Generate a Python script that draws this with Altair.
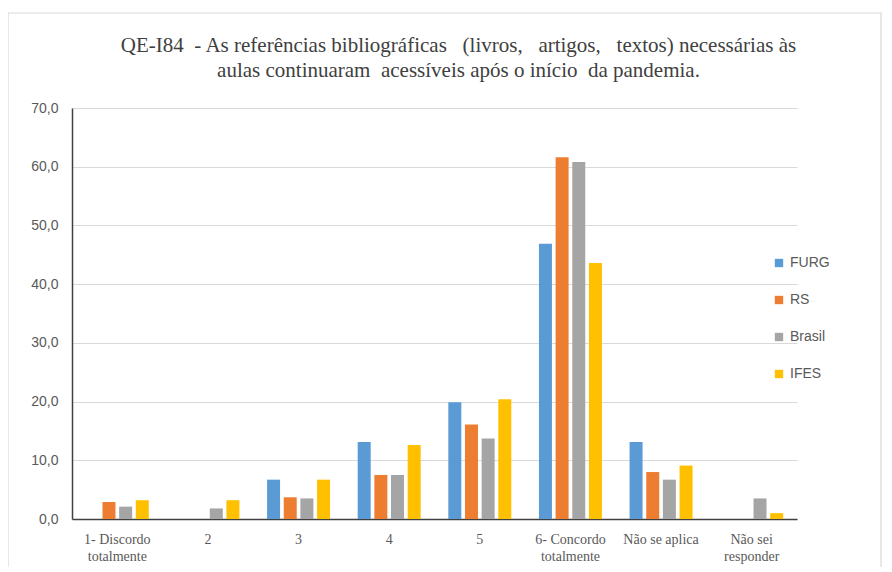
import altair as alt
import pandas as pd

categories = ["1- Discordo\ntotalmente", "2", "3", "4", "5",
              "6- Concordo\ntotalmente", "Não se aplica", "Não sei\nresponder"]
series = ["FURG", "RS", "Brasil", "IFES"]
furg =   [0.0, 0.0, 6.7, 13.1, 19.9, 46.9, 13.1, 0.0]
rs =     [2.9, 0.0, 3.7, 7.5, 16.1, 61.6, 8.0, 0.0]
brasil = [2.1, 1.8, 3.5, 7.5, 13.7, 60.8, 6.7, 3.5]
ifes =   [3.2, 3.2, 6.7, 12.6, 20.4, 43.6, 9.1, 1.0]
colors = ["#5B9BD5", "#ED7D31", "#A5A5A5", "#FFC000"]
NB = "\u00a0"
title_lines = [f"QE-I84{NB} - As referências bibliográficas{NB}{NB} (livros,{NB}{NB} artigos,{NB}{NB} textos) necessárias às",
               f"aulas continuaram{NB} acessíveis após o início{NB} da pandemia."]

rows = []
for s, vals in zip(series, [furg, rs, brasil, ifes]):
    for c, v in zip(categories, vals):
        rows.append({"cat": c, "serie": s, "valor": v})
df = pd.DataFrame(rows)

W, H = 725, 411

bars = alt.Chart(df).mark_bar().encode(
    x=alt.X("cat:N", sort=categories,
            scale=alt.Scale(paddingInner=0.305, paddingOuter=0.1525),
            axis=alt.Axis(title=None, labelAngle=0, labelFont="Liberation Serif",
                          labelFontSize=14, labelColor="#595959", ticks=False,
                          domainColor="#404040", domainWidth=1.5, labelPadding=13,
                          labelLineHeight=17,
                          labelExpr="split(datum.label, '\\n')")),
    xOffset=alt.XOffset("serie:N", sort=series,
                        scale=alt.Scale(paddingInner=0.22, paddingOuter=0)),
    y=alt.Y("valor:Q", scale=alt.Scale(domain=[0, 70]),
            axis=alt.Axis(title=None, values=[0, 10, 20, 30, 40, 50, 60, 70],
                          labelExpr="replace(format(datum.value, '.1f'), '.', ',')",
                          labelFont="Liberation Sans", labelFontSize=14,
                          labelColor="#595959", ticks=False, labelPadding=14,
                          gridColor="#d9d9d9", gridWidth=1,
                          domainColor="#404040", domainWidth=1.5)),
    color=alt.Color("serie:N", sort=series,
                    scale=alt.Scale(domain=series, range=colors),
                    legend=alt.Legend(title=None, orient="none", legendX=700, legendY=148,
                                      symbolType="square", symbolSize=70,
                                      labelFont="Liberation Sans", labelFontSize=14,
                                      labelColor="#595959", rowPadding=23,
                                      symbolStrokeWidth=0)),
)

frame = alt.Chart(pd.DataFrame({"k": [0]})).mark_rect(
    fill=None, stroke="#d9d9d9", strokeWidth=1.2
).encode(x=alt.value(-64), x2=alt.value(809), y=alt.value(-95), y2=alt.value(600))

chart = alt.layer(frame, bars).properties(
    width=W, height=H,
    title=alt.Title(title_lines, font="Liberation Serif", fontSize=21,
                    fontWeight="normal", color="#404040", anchor="middle",
                    dx=24, offset=-69, lineHeight=25),
    padding={"left": 64, "top": 100, "right": 87, "bottom": 48},
    autosize=alt.AutoSizeParams(type="none"),
).configure_view(stroke=None)

chart.save("out.html", embed_options={"renderer": "svg", "actions": False})
